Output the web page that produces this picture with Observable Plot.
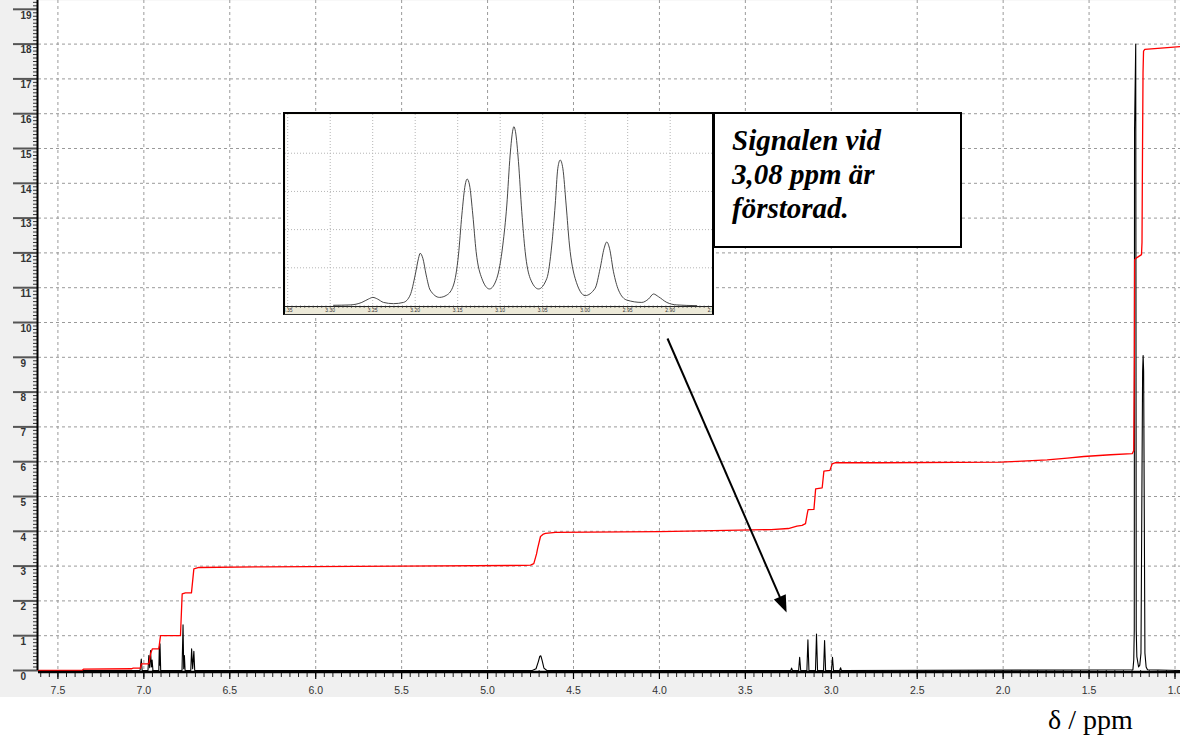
<!DOCTYPE html>
<html>
<head>
<meta charset="utf-8">
<script src="https://cdn.jsdelivr.net/npm/d3@7"></script>
<script src="https://cdn.jsdelivr.net/npm/@observablehq/plot@0.6"></script>
<style>
  html, body { margin: 0; padding: 0; background: #fff; }
  #wrap { position: relative; width: 1180px; height: 740px; overflow: hidden; }
  #main { position: absolute; left: 0; top: 0; }
  #inset { position: absolute; left: 283px; top: 112px; border: 2px solid #000; border-bottom: 1px solid #333; background: #ece9d8; line-height: 0; }
  #note { position: absolute; left: 713px; top: 112px; width: 249px; height: 136px; box-sizing: border-box;
          border: 2px solid #000; background: #fff; padding: 9px 0 0 17px;
          font: italic bold 29px "Liberation Serif", "Times New Roman", serif; line-height: 34px; color: #000; white-space: nowrap; }
  #xlabel { position: absolute; left: 1048px; top: 706px; font: 28px "Liberation Serif", "Times New Roman", serif; line-height: 28px; color: #000; white-space: nowrap; }
</style>
</head>
<body>
<div id="wrap">
  <div id="main"></div>
  <div id="inset"></div>
  <div id="note"></div>
  <div id="xlabel"></div>
</div>
<script>
// ---------- data ----------
const xTickValues = [7.5, 7.0, 6.5, 6.0, 5.5, 5.0, 4.5, 4.0, 3.5, 3.0, 2.5, 2.0, 1.5, 1.0];
const yTickValues = [0,1,2,3,4,5,6,7,8,9,10,11,12,13,14,15,16,17,18,19];
const yGridValues = [1,2,3,4,5,6,7,8,9,10,11,12,13,14,15,16,17,18];

// 1H spectrum (ppm, intensity)
const spectrum = [
  [7.36,0],[7.03,0],[7.022,0],[7.015,0.33],[7.010,0],
  [6.976,0],[6.971,0.43],[6.966,0.08],[6.961,0.57],[6.956,0.1],[6.952,0.3],[6.947,0],
  [6.913,0],[6.910,0.68],[6.908,0.15],[6.906,0.77],[6.902,0],
  [6.778,0],[6.772,1.31],[6.768,0.05],[6.764,0.43],[6.760,0],
  [6.727,0],[6.722,0.62],[6.716,0.05],[6.709,0.55],[6.704,0],
  [4.74,0],[4.718,0.05],[4.705,0.25],[4.696,0.41],[4.690,0.42],[4.683,0.3],[4.672,0.07],[4.655,0],
  [3.236,0],[3.231,0.07],[3.226,0],
  [3.190,0],[3.184,0.38],[3.178,0],
  [3.142,0],[3.136,0.88],[3.130,0],
  [3.092,0],[3.086,1.05],[3.080,0],
  [3.045,0],[3.039,0.86],[3.033,0],
  [2.999,0],[2.993,0.38],[2.987,0],
  [2.951,0],[2.946,0.08],[2.941,0],
  [1.245,0.02],[1.240,0.3],[1.237,1.15],[1.2355,15.5],[1.2285,18.0],[1.2255,1.15],[1.222,0.4],
  [1.212,0.1],[1.205,0.15],[1.198,0.5],[1.1885,8.6],[1.1855,9.05],[1.1825,8.6],[1.175,0.5],[1.168,0.1],[1.16,0.02],
  [0.968,0]
];

// integral curve (ppm, integral)
const integral = [
  [7.613,0],[7.36,0.0],[7.35,0.04],[7.07,0.05],[7.062,0.07],[7.019,0.07],[7.015,0.19],[6.971,0.19],
  [6.961,0.48],[6.951,0.62],[6.913,0.62],[6.903,1.0],[6.787,1.0],[6.777,2.2],[6.758,2.23],[6.723,2.23],
  [6.709,2.92],[6.68,2.96],[6.3,2.98],[5.5,3.0],[4.78,3.02],[4.750,3.03],[4.731,3.07],[4.715,3.35],
  [4.709,3.5],[4.692,3.85],[4.675,3.92],[4.663,3.94],[4.605,3.97],[4.0,3.99],[3.761,4.01],[3.35,4.05],
  [3.25,4.08],[3.20,4.15],[3.17,4.17],[3.15,4.22],[3.140,4.5],[3.135,4.62],[3.101,4.63],[3.091,5.22],
  [3.053,5.25],[3.043,5.73],[3.008,5.75],[2.995,5.94],[2.975,5.97],[2.713,5.97],[2.015,5.99],[1.918,6.01],
  [1.744,6.05],[1.627,6.10],[1.530,6.15],[1.375,6.20],[1.249,6.23],[1.240,6.32],[1.2365,9.0],[1.235,11.8],
  [1.226,11.85],[1.195,11.95],[1.192,12.3],[1.189,15.0],[1.186,17.2],[1.183,17.8],[1.176,17.85],[1.10,17.88],[0.968,17.93]
];

// enlarged multiplet at 3.08 ppm (ppm, relative intensity)
const insetCurve = [
  [3.2961,0.4],[3.2765,0.6],[3.2628,2.0],[3.2549,3.9],[3.2498,4.8],[3.2444,3.9],[3.2373,2.0],[3.2255,1.3],
  [3.2138,2.0],[3.2059,6.1],[3.2000,17.3],[3.1961,26.6],[3.1942,29.4],[3.1910,26.6],[3.1871,17.3],[3.1824,8.9],
  [3.1714,4.8],[3.1628,6.1],[3.1549,11.7],[3.1491,28.4],[3.1451,50.8],[3.1412,67.5],[3.1389,70.8],[3.1361,67.5],
  [3.1322,50.8],[3.1283,30.3],[3.1216,15.4],[3.1126,9.5],[3.1040,15.4],[3.0969,34.0],[3.0922,56.3],[3.0883,84.2],
  [3.0851,98.2],[3.0840,100],[3.0820,97.2],[3.0785,80.5],[3.0746,52.6],[3.0706,30.3],[3.0647,15.4],[3.0549,9.5],
  [3.0451,15.4],[3.0393,34.0],[3.0353,56.3],[3.0322,76.8],[3.0294,81.4],[3.0263,76.8],[3.0224,56.3],[3.0185,34.0],
  [3.0118,15.4],[3.0000,5.8],[2.9883,9.9],[2.9824,21.0],[2.9777,32.2],[2.9746,35.7],[2.9714,32.2],[2.9667,19.1],
  [2.9608,8.9],[2.9510,3.3],[2.9334,2.0],[2.9255,3.9],[2.9196,6.7],[2.9138,5.2],[2.9040,2.0],[2.8922,0.6],[2.8687,0.2]
];
const insetTickValues = [3.35, 3.30, 3.25, 3.20, 3.15, 3.10, 3.05, 3.00, 2.95, 2.90, 2.85];
const insetGridY = [21.3, 42.6, 63.9, 85.2];

// annotation arrow (ppm, intensity)
const arrowLine = [{x1: 3.953, y1: 9.54, x2: 3.279, y2: 1.88}];
const arrowTip = [{x: 3.260, y: 1.667}];

const noteLines = ["Signalen vid", "3,08 ppm är", "förstorad."];
const xAxisLabel = "δ / ppm";

// ---------- main chart ----------
const xMinor = d3.range(20, 153).map(i => +(i * 0.05).toFixed(2));
const yMinor = d3.range(0, 193).map(i => +(i * 0.1).toFixed(1));

const arrowHead = {
  draw(ctx) { ctx.moveTo(0, 0); ctx.lineTo(-6.5, 17); ctx.lineTo(6.5, 17); ctx.closePath(); }
};

const main = Plot.plot({
  width: 1180, height: 697,
  marginLeft: 38, marginRight: 0, marginTop: 0, marginBottom: 27,
  x: {domain: [7.613, 0.968], axis: null},
  y: {domain: [0, 19.253], axis: null},
  style: {background: "#f0f0f0", fontFamily: "'Liberation Sans', Arial, sans-serif", fontSize: "10px", color: "#222", overflow: "visible"},
  marks: [
    Plot.frame({fill: "white", stroke: null}),
    Plot.gridX(xTickValues, {stroke: "#9a9a9a", strokeOpacity: 1, strokeDasharray: "3,3"}),
    Plot.gridY(yGridValues, {stroke: "#9a9a9a", strokeOpacity: 1, strokeDasharray: "3,3"}),
    // y axis ticks
    Plot.axisY(yMinor, {tickSize: 5, text: null, stroke: "#333"}),
    Plot.axisY(yTickValues, {tickSize: 25, text: null, stroke: "#555", strokeWidth: 2}),
    Plot.text(yTickValues, {y: d => d, text: d => String(d), frameAnchor: "left", dx: -18, dy: 6,
      textAnchor: "start", fill: "#333", fontSize: 10, fontWeight: "bold"}),
    // x axis ticks & labels
    Plot.axisX(xMinor, {tickSize: 7, text: null, stroke: "#222"}),
    Plot.axisX(xTickValues, {tickSize: 9, text: null, stroke: "#000", strokeWidth: 1.2}),
    Plot.axisX(xTickValues, {tickSize: 0, tickPadding: 16, tickFormat: d => d.toFixed(1), fill: "#333", fontSize: 10.5}),
    // spectrum and integral
    Plot.line(spectrum, {x: d => d[0], y: d => d[1], stroke: "#000", strokeWidth: 1.1}),
    Plot.line(integral, {x: d => d[0], y: d => d[1], stroke: "#ff0000", strokeWidth: 1.3}),
    // axis lines
    Plot.ruleY([0], {stroke: "#000", strokeWidth: 2.5, dy: 1.5}),
    Plot.ruleX([7.613], {stroke: "#000", strokeWidth: 2, dx: -1}),
    // arrow
    Plot.link(arrowLine, {x1: "x1", y1: "y1", x2: "x2", y2: "y2", stroke: "#000", strokeWidth: 2}),
    Plot.dot(arrowTip, {x: "x", y: "y", symbol: arrowHead, r: 5, fill: "#000", stroke: null, rotate: 156.5})
  ]
});
document.getElementById("main").appendChild(main);

// ---------- inset ----------
const insetMinor = d3.range(570, 671).map(i => +(i * 0.005).toFixed(3));
const inset = Plot.plot({
  width: 427, height: 200,
  marginLeft: 0, marginRight: 0, marginTop: 0, marginBottom: 8.5,
  x: {domain: [3.3526, 2.8502], axis: null},
  y: {domain: [0, 106.8], axis: null},
  style: {background: "#ece9d8", fontFamily: "'Liberation Sans', Arial, sans-serif", color: "#333"},
  marks: [
    Plot.frame({fill: "white", stroke: null}),
    Plot.gridX(insetTickValues, {stroke: "#b5b5b5", strokeOpacity: 1, strokeDasharray: "1,2"}),
    Plot.gridY(insetGridY, {stroke: "#b5b5b5", strokeOpacity: 1, strokeDasharray: "1,2"}),
    Plot.line(insetCurve, {x: d => d[0], y: d => d[1], curve: "monotone-x", stroke: "#333", strokeWidth: 0.9}),
    Plot.ruleY([0], {stroke: "#222", strokeWidth: 1, dy: 0.5}),
    Plot.axisX(insetMinor, {tickSize: 2.5, text: null, stroke: "#333", strokeWidth: 0.6}),
    Plot.axisX(insetTickValues, {tickSize: 0, tickPadding: 2.5, tickFormat: d => d.toFixed(2), fontSize: 5, fill: "#333"})
  ]
});
document.getElementById("inset").appendChild(inset);

// ---------- note box and axis label ----------
const note = document.getElementById("note");
noteLines.forEach(t => { const d = document.createElement("div"); d.textContent = t; note.appendChild(d); });
document.getElementById("xlabel").textContent = xAxisLabel;
</script>
</body>
</html>
